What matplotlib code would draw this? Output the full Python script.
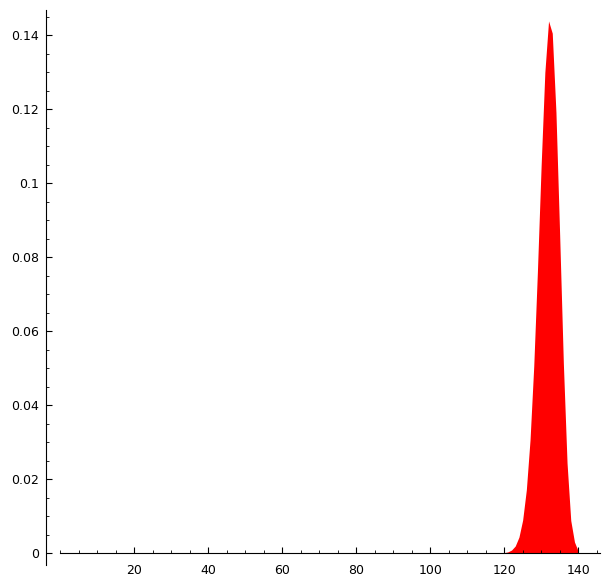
import matplotlib
matplotlib.use("Agg")
import matplotlib.pyplot as plt
from matplotlib.ticker import MultipleLocator, FixedLocator, FuncFormatter

# probability values (zero elsewhere)
k = [120, 121, 122, 123, 124, 125, 126, 127, 128, 129, 130,
     131, 132, 133, 134, 135, 136, 137, 138, 139, 140]
prob = [0.0001, 0.0003, 0.0008, 0.0019, 0.0043, 0.0089, 0.0171, 0.0306, 0.0505, 0.0763, 0.1048,
        0.1299, 0.1438, 0.1405, 0.1191, 0.0860, 0.0513, 0.0243, 0.0088, 0.0030, 0.0005]

x_ticks = [20, 40, 60, 80, 100, 120, 140]
y_ticks = [0, 0.02, 0.04, 0.06, 0.08, 0.1, 0.12, 0.14]

fig = plt.figure(figsize=(6.09, 5.84), dpi=100)
ax = fig.add_axes([60/609, 19/584, 540/609, 555/584])

ax.fill_between(k, prob, 0, color='#ff0000', linewidth=0)

ax.set_xlim(0, 145.9)
ax.set_ylim(-0.00324, 0.14676)

ax.spines['top'].set_visible(False)
ax.spines['right'].set_visible(False)
ax.spines['bottom'].set_position(('data', 0))
ax.spines['left'].set_position(('outward', 10))

ax.xaxis.set_major_locator(FixedLocator(x_ticks))
ax.xaxis.set_minor_locator(MultipleLocator(5))
ax.yaxis.set_major_locator(FixedLocator(y_ticks))
ax.yaxis.set_minor_locator(MultipleLocator(0.005))
fmt = FuncFormatter(lambda v, p: '%g' % round(v, 6))
ax.xaxis.set_major_formatter(fmt)
ax.yaxis.set_major_formatter(fmt)

ax.tick_params(which='both', direction='in', labelsize=9)
ax.tick_params(which='major', length=4)
ax.tick_params(which='minor', length=2)
ax.tick_params(axis='x', pad=8)
ax.tick_params(axis='y', pad=5)

fig.savefig('out.png', dpi=100)
